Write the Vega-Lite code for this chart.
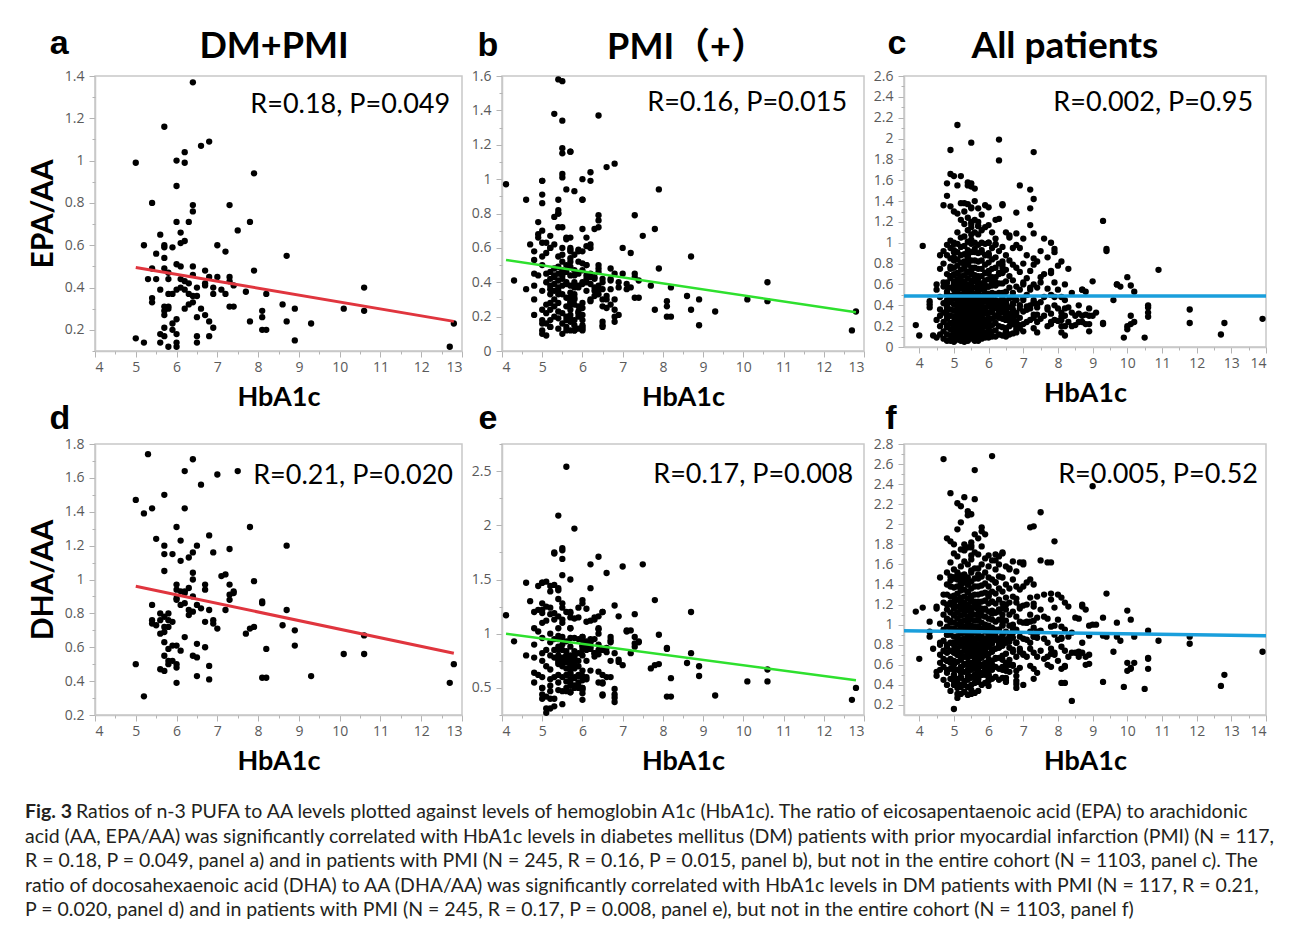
{
"$schema":"https://vega.github.io/schema/vega-lite/v6.json",
"background":"white",
"padding":{"left":25,"top":26,"right":10,"bottom":8},
"config":{"font":"Lato","numberFormat":"~g","view":{"stroke":"#c8c8c8","strokeWidth":1.5},
"axis":{"grid":false,"labelOverlap":false,"labelFont":"Open Sans","labelFontSize":14,"labelColor":"#5a5a5a","domainColor":"#c8c8c8","domainWidth":1.5,"tickColor":"#b4b4b4","tickSize":6,"labelPadding":3,"titleFont":"Lato","titleFontWeight":"bold","titleFontSize":27,"titleColor":"#000"},
"axisX":{"titlePadding":10},"axisY":{"titlePadding":6,"labelPadding":5,"titleFontSize":30}},
"datasets":{
"fits":[{"panel":"a","x":5.0,"y":0.495},{"panel":"a","x":12.8,"y":0.24},{"panel":"b","x":4.1,"y":0.53},{"panel":"b","x":12.8,"y":0.225},{"panel":"c","x":3.56,"y":0.49},{"panel":"c","x":14,"y":0.49},{"panel":"d","x":5.0,"y":0.96},{"panel":"d","x":12.8,"y":0.565},{"panel":"e","x":4.1,"y":1.0},{"panel":"e","x":12.8,"y":0.57},{"panel":"f","x":3.56,"y":0.94},{"panel":"f","x":14,"y":0.89}],
"labels":[{"panel":"a","letter":"a","group":"DM+PMI","stat":"R=0.18, P=0.049"},{"panel":"b","letter":"b","group":"PMI（+）","stat":"R=0.16, P=0.015"},{"panel":"c","letter":"c","group":"All patients","stat":"R=0.002, P=0.95"},{"panel":"d","letter":"d","group":"","stat":"R=0.21, P=0.020"},{"panel":"e","letter":"e","group":"","stat":"R=0.17, P=0.008"},{"panel":"f","letter":"f","group":"","stat":"R=0.005, P=0.52"}],
"caption":[{"line":1,"lead":"Fig. 3","text":"Ratios of n-3 PUFA to AA levels plotted against levels of hemoglobin A1c (HbA1c). The ratio of eicosapentaenoic acid (EPA) to arachidonic"},{"line":2,"lead":"","text":"acid (AA, EPA/AA) was significantly correlated with HbA1c levels in diabetes mellitus (DM) patients with prior myocardial infarction (PMI) (N = 117,"},{"line":3,"lead":"","text":"R = 0.18, P = 0.049, panel a) and in patients with PMI (N = 245, R = 0.16, P = 0.015, panel b), but not in the entire cohort (N = 1103, panel c). The"},{"line":4,"lead":"","text":"ratio of docosahexaenoic acid (DHA) to AA (DHA/AA) was significantly correlated with HbA1c levels in DM patients with PMI (N = 117, R = 0.21,"},{"line":5,"lead":"","text":"P = 0.020, panel d) and in patients with PMI (N = 245, R = 0.17, P = 0.008, panel e), but not in the entire cohort (N = 1103, panel f)"}],
"pts":[
{"g":1,"x":5.0,"e":0.99,"d":1.47},{"g":1,"x":5.0,"e":0.16,"d":0.50},{"g":1,"x":5.2,"e":0.60,"d":1.39},{"g":1,"x":5.2,"e":0.14,"d":0.31},{"g":1,"x":5.3,"e":0.44,"d":1.74},
{"g":1,"x":5.4,"e":0.80,"d":1.42},{"g":1,"x":5.4,"e":0.49,"d":0.85},{"g":1,"x":5.4,"e":0.35,"d":0.74},{"g":1,"x":5.4,"e":0.33,"d":0.76},{"g":1,"x":5.5,"e":0.56,"d":1.24},{"g":1,"x":5.5,"e":0.44,"d":0.73},
{"g":1,"x":5.6,"e":0.65,"d":0.76},{"g":1,"x":5.6,"e":0.39,"d":0.68},{"g":1,"x":5.6,"e":0.18,"d":0.47},{"g":1,"x":5.6,"e":0.14,"d":0.80},
{"g":1,"x":5.7,"e":1.16,"d":1.50},{"g":1,"x":5.7,"e":0.60,"d":1.20},{"g":1,"x":5.7,"e":0.59,"d":1.15},{"g":1,"x":5.7,"e":0.54,"d":1.05},{"g":1,"x":5.7,"e":0.49,"d":0.72},{"g":1,"x":5.7,"e":0.31,"d":0.69},{"g":1,"x":5.7,"e":0.29,"d":0.63},{"g":1,"x":5.7,"e":0.27,"d":0.46},{"g":1,"x":5.7,"e":0.21,"d":0.78},{"g":1,"x":5.7,"e":0.17,"d":0.55},
{"g":1,"x":5.8,"e":0.47,"d":0.80},{"g":1,"x":5.8,"e":0.44,"d":0.76},{"g":1,"x":5.8,"e":0.37,"d":0.72},{"g":1,"x":5.8,"e":0.31,"d":0.59},{"g":1,"x":5.8,"e":0.30,"d":0.52},{"g":1,"x":5.8,"e":0.12,"d":0.50},
{"g":1,"x":5.9,"e":0.59,"d":1.15},{"g":1,"x":5.9,"e":0.37,"d":0.75},{"g":1,"x":5.9,"e":0.23,"d":0.61},{"g":1,"x":5.9,"e":0.20,"d":0.52},
{"g":1,"x":6.0,"e":1.00,"d":1.31},{"g":1,"x":6.0,"e":0.88,"d":0.97},{"g":1,"x":6.0,"e":0.71,"d":0.94},{"g":1,"x":6.0,"e":0.51,"d":0.89},{"g":1,"x":6.0,"e":0.39,"d":0.88},{"g":1,"x":6.0,"e":0.25,"d":0.61},{"g":1,"x":6.0,"e":0.18,"d":0.50},{"g":1,"x":6.0,"e":0.14,"d":0.48},{"g":1,"x":6.0,"e":0.12,"d":0.39},
{"g":1,"x":6.1,"e":0.66,"d":1.23},{"g":1,"x":6.1,"e":0.61,"d":1.11},{"g":1,"x":6.1,"e":0.50,"d":0.93},{"g":1,"x":6.1,"e":0.44,"d":0.58},{"g":1,"x":6.1,"e":0.40,"d":0.85},
{"g":1,"x":6.2,"e":1.04,"d":1.64},{"g":1,"x":6.2,"e":0.99,"d":1.42},{"g":1,"x":6.2,"e":0.62,"d":0.92},{"g":1,"x":6.2,"e":0.43,"d":0.86},{"g":1,"x":6.2,"e":0.39,"d":0.66},{"g":1,"x":6.2,"e":0.30,"d":0.93},
{"g":1,"x":6.3,"e":0.71,"d":1.13},{"g":1,"x":6.3,"e":0.42,"d":0.95},{"g":1,"x":6.3,"e":0.37,"d":0.82},{"g":1,"x":6.3,"e":0.32,"d":0.79},
{"g":1,"x":6.4,"e":1.37,"d":1.71},{"g":1,"x":6.4,"e":0.79,"d":1.16},{"g":1,"x":6.4,"e":0.76,"d":1.04},{"g":1,"x":6.4,"e":0.50,"d":1.00},{"g":1,"x":6.4,"e":0.46,"d":0.81},{"g":1,"x":6.4,"e":0.36,"d":0.55},{"g":1,"x":6.4,"e":0.33,"d":0.90},
{"g":1,"x":6.5,"e":0.40,"d":1.20},{"g":1,"x":6.5,"e":0.36,"d":0.85},{"g":1,"x":6.5,"e":0.26,"d":0.62},{"g":1,"x":6.5,"e":0.17,"d":0.54},{"g":1,"x":6.5,"e":0.14,"d":0.43},
{"g":1,"x":6.6,"e":1.07,"d":1.56},{"g":1,"x":6.6,"e":0.30,"d":0.83},
{"g":1,"x":6.7,"e":0.48,"d":0.97},{"g":1,"x":6.7,"e":0.42,"d":0.94},{"g":1,"x":6.7,"e":0.41,"d":0.75},{"g":1,"x":6.7,"e":0.27,"d":0.60},
{"g":1,"x":6.8,"e":1.09,"d":1.26},{"g":1,"x":6.8,"e":0.45,"d":0.82},{"g":1,"x":6.8,"e":0.24,"d":0.49},{"g":1,"x":6.8,"e":0.17,"d":0.41},
{"g":1,"x":6.9,"e":0.37,"d":1.16},{"g":1,"x":6.9,"e":0.21,"d":0.76},{"g":1,"x":6.9,"e":0.40,"d":0.74},
{"g":1,"x":7.0,"e":0.60,"d":1.62},{"g":1,"x":7.0,"e":0.45,"d":0.71},{"g":1,"x":7.1,"e":0.39,"d":1.02},{"g":1,"x":7.2,"e":0.57,"d":1.03},{"g":1,"x":7.2,"e":0.37,"d":0.82},
{"g":1,"x":7.3,"e":0.79,"d":1.18},{"g":1,"x":7.3,"e":0.45,"d":0.97},{"g":1,"x":7.3,"e":0.43,"d":0.91},{"g":1,"x":7.3,"e":0.31,"d":0.88},
{"g":1,"x":7.4,"e":0.41,"d":0.92},{"g":1,"x":7.4,"e":0.31,"d":0.93},{"g":1,"x":7.5,"e":0.67,"d":1.64},{"g":1,"x":7.7,"e":0.38,"d":0.68},{"g":1,"x":7.8,"e":0.71,"d":1.31},{"g":1,"x":7.8,"e":0.24,"d":0.71},
{"g":1,"x":7.9,"e":0.94,"d":0.99},{"g":1,"x":7.9,"e":0.48,"d":0.72},{"g":1,"x":8.1,"e":0.29,"d":0.87},{"g":1,"x":8.1,"e":0.26,"d":0.86},{"g":1,"x":8.1,"e":0.20,"d":0.42},
{"g":1,"x":8.2,"e":0.37,"d":0.59},{"g":1,"x":8.2,"e":0.20,"d":0.42},{"g":1,"x":8.6,"e":0.32,"d":0.73},{"g":1,"x":8.7,"e":0.55,"d":1.20},{"g":1,"x":8.7,"e":0.24,"d":0.82},
{"g":1,"x":8.9,"e":0.30,"d":0.70},{"g":1,"x":8.9,"e":0.15,"d":0.61},{"g":1,"x":9.3,"e":0.23,"d":0.43},{"g":1,"x":10.1,"e":0.30,"d":0.56},{"g":1,"x":10.6,"e":0.40,"d":0.67},{"g":1,"x":10.6,"e":0.29,"d":0.56},
{"g":1,"x":12.7,"e":0.12,"d":0.39},{"g":1,"x":12.8,"e":0.23,"d":0.50},
{"g":2,"x":4.1,"e":0.97,"d":1.17},{"g":2,"x":4.3,"e":0.41,"d":0.93},{"g":2,"x":4.6,"e":0.88,"d":1.47},{"g":2,"x":4.6,"e":0.36,"d":0.80},{"g":2,"x":4.7,"e":0.62,"d":1.30},
{"g":2,"x":4.8,"e":0.58,"d":1.20},{"g":2,"x":4.8,"e":0.53,"d":1.05},{"g":2,"x":4.8,"e":0.45,"d":0.90},{"g":2,"x":4.8,"e":0.38,"d":0.78},{"g":2,"x":4.8,"e":0.30,"d":0.64},{"g":2,"x":4.8,"e":0.21,"d":0.55},
{"g":2,"x":4.9,"e":0.75,"d":1.44},{"g":2,"x":4.9,"e":0.68,"d":1.22},{"g":2,"x":4.9,"e":0.66,"d":1.02},{"g":2,"x":4.9,"e":0.44,"d":0.62},
{"g":2,"x":5.0,"e":0.99,"d":1.47},{"g":2,"x":5.0,"e":0.91,"d":1.28},{"g":2,"x":5.0,"e":0.86,"d":1.22},{"g":2,"x":5.0,"e":0.70,"d":1.19},{"g":2,"x":5.0,"e":0.63,"d":1.10},{"g":2,"x":5.0,"e":0.55,"d":0.96},{"g":2,"x":5.0,"e":0.50,"d":0.82},{"g":2,"x":5.0,"e":0.35,"d":0.75},{"g":2,"x":5.0,"e":0.24,"d":0.60},{"g":2,"x":5.0,"e":0.18,"d":0.50},{"g":2,"x":5.0,"e":0.12,"d":0.44},{"g":2,"x":5.0,"e":0.10,"d":0.40},
{"g":2,"x":5.1,"e":0.63,"d":1.48},{"g":2,"x":5.1,"e":0.57,"d":1.25},{"g":2,"x":5.1,"e":0.45,"d":1.12},{"g":2,"x":5.1,"e":0.40,"d":0.85},{"g":2,"x":5.1,"e":0.27,"d":0.70},{"g":2,"x":5.1,"e":0.22,"d":0.42},{"g":2,"x":5.1,"e":0.16,"d":0.31},{"g":2,"x":5.1,"e":0.09,"d":0.27},
{"g":2,"x":5.2,"e":0.67,"d":1.44},{"g":2,"x":5.2,"e":0.60,"d":1.24},{"g":2,"x":5.2,"e":0.46,"d":1.18},{"g":2,"x":5.2,"e":0.42,"d":1.00},{"g":2,"x":5.2,"e":0.38,"d":0.92},{"g":2,"x":5.2,"e":0.36,"d":0.80},{"g":2,"x":5.2,"e":0.33,"d":0.67},{"g":2,"x":5.2,"e":0.28,"d":0.58},{"g":2,"x":5.2,"e":0.24,"d":0.52},{"g":2,"x":5.2,"e":0.18,"d":0.47},{"g":2,"x":5.2,"e":0.14,"d":0.40},
{"g":2,"x":5.3,"e":1.38,"d":1.75},{"g":2,"x":5.3,"e":0.78,"d":1.45},{"g":2,"x":5.3,"e":0.62,"d":1.19},{"g":2,"x":5.3,"e":0.48,"d":1.13},{"g":2,"x":5.3,"e":0.43,"d":0.95},{"g":2,"x":5.3,"e":0.39,"d":0.85},{"g":2,"x":5.3,"e":0.35,"d":0.78},{"g":2,"x":5.3,"e":0.30,"d":0.60},{"g":2,"x":5.3,"e":0.26,"d":0.40},{"g":2,"x":5.3,"e":0.20,"d":0.33},
{"g":2,"x":5.4,"e":1.58,"d":2.09},{"g":2,"x":5.4,"e":0.88,"d":1.40},{"g":2,"x":5.4,"e":0.82,"d":1.32},{"g":2,"x":5.4,"e":0.80,"d":1.16},{"g":2,"x":5.4,"e":0.72,"d":1.05},{"g":2,"x":5.4,"e":0.55,"d":0.98},{"g":2,"x":5.4,"e":0.45,"d":0.95},{"g":2,"x":5.4,"e":0.41,"d":0.88},{"g":2,"x":5.4,"e":0.37,"d":0.80},{"g":2,"x":5.4,"e":0.28,"d":0.72},{"g":2,"x":5.4,"e":0.23,"d":0.62},{"g":2,"x":5.4,"e":0.19,"d":0.55},{"g":2,"x":5.4,"e":0.13,"d":0.48},
{"g":2,"x":5.5,"e":1.57,"d":1.79},{"g":2,"x":5.5,"e":1.34,"d":1.77},{"g":2,"x":5.5,"e":1.18,"d":1.69},{"g":2,"x":5.5,"e":1.15,"d":1.54},{"g":2,"x":5.5,"e":1.03,"d":1.28},{"g":2,"x":5.5,"e":1.01,"d":1.13},{"g":2,"x":5.5,"e":0.72,"d":1.10},{"g":2,"x":5.5,"e":0.60,"d":0.97},{"g":2,"x":5.5,"e":0.52,"d":0.90},{"g":2,"x":5.5,"e":0.47,"d":0.85},{"g":2,"x":5.5,"e":0.42,"d":0.78},{"g":2,"x":5.5,"e":0.38,"d":0.74},{"g":2,"x":5.5,"e":0.33,"d":0.70},{"g":2,"x":5.5,"e":0.22,"d":0.60},{"g":2,"x":5.5,"e":0.16,"d":0.47},{"g":2,"x":5.5,"e":0.10,"d":0.35},
{"g":2,"x":5.6,"e":0.94,"d":2.54},{"g":2,"x":5.6,"e":0.66,"d":1.20},{"g":2,"x":5.6,"e":0.50,"d":0.93},{"g":2,"x":5.6,"e":0.46,"d":0.84},{"g":2,"x":5.6,"e":0.40,"d":0.80},{"g":2,"x":5.6,"e":0.31,"d":0.74},{"g":2,"x":5.6,"e":0.26,"d":0.62},{"g":2,"x":5.6,"e":0.20,"d":0.56},{"g":2,"x":5.6,"e":0.12,"d":0.50},
{"g":2,"x":5.7,"e":1.16,"d":1.19},{"g":2,"x":5.7,"e":0.66,"d":1.05},{"g":2,"x":5.7,"e":0.58,"d":0.96},{"g":2,"x":5.7,"e":0.52,"d":0.88},{"g":2,"x":5.7,"e":0.44,"d":0.80},{"g":2,"x":5.7,"e":0.38,"d":0.76},{"g":2,"x":5.7,"e":0.34,"d":0.70},{"g":2,"x":5.7,"e":0.28,"d":0.64},{"g":2,"x":5.7,"e":0.24,"d":0.58},{"g":2,"x":5.7,"e":0.19,"d":0.52},{"g":2,"x":5.7,"e":0.12,"d":0.46},
{"g":2,"x":5.8,"e":0.93,"d":1.97},{"g":2,"x":5.8,"e":0.56,"d":1.14},{"g":2,"x":5.8,"e":0.40,"d":0.96},{"g":2,"x":5.8,"e":0.33,"d":0.84},{"g":2,"x":5.8,"e":0.27,"d":0.78},{"g":2,"x":5.8,"e":0.18,"d":0.68},{"g":2,"x":5.8,"e":0.15,"d":0.60},{"g":2,"x":5.8,"e":0.12,"d":0.52},
{"g":2,"x":5.9,"e":0.58,"d":1.24},{"g":2,"x":5.9,"e":0.52,"d":0.95},{"g":2,"x":5.9,"e":0.45,"d":0.82},{"g":2,"x":5.9,"e":0.38,"d":0.70},{"g":2,"x":5.9,"e":0.26,"d":0.62},{"g":2,"x":5.9,"e":0.22,"d":0.55},{"g":2,"x":5.9,"e":0.13,"d":0.50},
{"g":2,"x":6.0,"e":0.88,"d":1.28},{"g":2,"x":6.0,"e":0.58,"d":0.97},{"g":2,"x":6.0,"e":0.47,"d":0.85},{"g":2,"x":6.0,"e":0.40,"d":0.80},{"g":2,"x":6.0,"e":0.28,"d":0.66},{"g":2,"x":6.0,"e":0.21,"d":0.57},{"g":2,"x":6.0,"e":0.15,"d":0.50},{"g":2,"x":6.0,"e":0.13,"d":0.45},
{"g":2,"x":6.1,"e":0.50,"d":0.90},{"g":2,"x":6.1,"e":0.42,"d":0.75},{"g":2,"x":6.1,"e":0.35,"d":0.60},{"g":2,"x":6.2,"e":0.60,"d":1.12},{"g":2,"x":6.2,"e":0.45,"d":0.95},{"g":2,"x":6.2,"e":0.29,"d":0.88},
{"g":2,"x":6.3,"e":0.43,"d":1.15},{"g":2,"x":6.3,"e":0.35,"d":0.82},{"g":2,"x":6.4,"e":0.72,"d":1.05},{"g":2,"x":6.4,"e":0.48,"d":0.85},{"g":2,"x":6.4,"e":0.38,"d":0.65},
{"g":2,"x":6.5,"e":0.42,"d":1.20},{"g":2,"x":6.5,"e":0.30,"d":0.55},{"g":2,"x":6.5,"e":0.15,"d":0.44},{"g":2,"x":6.6,"e":0.32,"d":0.87},{"g":2,"x":6.6,"e":0.25,"d":0.60},{"g":2,"x":6.7,"e":0.36,"d":0.92},
{"g":2,"x":6.8,"e":0.30,"d":0.44},{"g":2,"x":6.8,"e":0.20,"d":0.37},{"g":2,"x":7.1,"e":0.36,"d":1.03},
{"g":3,"x":3.9,"e":0.21,"d":1.13},{"g":3,"x":4.0,"e":0.11,"d":0.66},{"g":3,"x":4.3,"e":0.44,"d":1.03},{"g":3,"x":4.3,"e":0.38,"d":0.88},{"g":3,"x":4.4,"e":0.11,"d":0.76},
{"g":3,"x":4.5,"e":0.60,"d":1.18},{"g":3,"x":4.5,"e":0.55,"d":1.16},{"g":3,"x":4.5,"e":0.26,"d":0.49},{"g":3,"x":4.5,"e":0.09,"d":0.53},
{"g":3,"x":4.6,"e":0.75,"d":1.01},{"g":3,"x":4.6,"e":0.48,"d":0.82},{"g":3,"x":4.6,"e":0.30,"d":0.70},{"g":3,"x":4.6,"e":0.20,"d":0.62},{"g":3,"x":4.6,"e":0.12,"d":0.55},
{"g":3,"x":4.7,"e":1.36,"d":2.65},{"g":3,"x":4.7,"e":0.92,"d":1.22},{"g":3,"x":4.7,"e":0.80,"d":1.10},{"g":3,"x":4.7,"e":0.58,"d":0.95},{"g":3,"x":4.7,"e":0.42,"d":0.84},{"g":3,"x":4.7,"e":0.33,"d":0.74},{"g":3,"x":4.7,"e":0.24,"d":0.66},{"g":3,"x":4.7,"e":0.15,"d":0.58},{"g":3,"x":4.7,"e":0.08,"d":0.45},
{"g":3,"x":4.8,"e":1.57,"d":1.86},{"g":3,"x":4.8,"e":1.45,"d":1.52},{"g":3,"x":4.8,"e":0.98,"d":1.40},{"g":3,"x":4.8,"e":0.88,"d":1.30},{"g":3,"x":4.8,"e":0.70,"d":1.15},{"g":3,"x":4.8,"e":0.62,"d":1.06},{"g":3,"x":4.8,"e":0.51,"d":0.98},{"g":3,"x":4.8,"e":0.40,"d":0.90},{"g":3,"x":4.8,"e":0.35,"d":0.80},{"g":3,"x":4.8,"e":0.27,"d":0.72},{"g":3,"x":4.8,"e":0.19,"d":0.64},{"g":3,"x":4.8,"e":0.12,"d":0.52},{"g":3,"x":4.8,"e":0.06,"d":0.40},
{"g":3,"x":4.9,"e":1.89,"d":2.31},{"g":3,"x":4.9,"e":1.66,"d":1.83},{"g":3,"x":4.9,"e":1.35,"d":1.62},{"g":3,"x":4.9,"e":1.02,"d":1.48},{"g":3,"x":4.9,"e":0.95,"d":1.38},{"g":3,"x":4.9,"e":0.85,"d":1.28},{"g":3,"x":4.9,"e":0.77,"d":1.20},{"g":3,"x":4.9,"e":0.68,"d":1.12},{"g":3,"x":4.9,"e":0.57,"d":1.04},{"g":3,"x":4.9,"e":0.49,"d":0.96},{"g":3,"x":4.9,"e":0.43,"d":0.90},{"g":3,"x":4.9,"e":0.36,"d":0.82},{"g":3,"x":4.9,"e":0.30,"d":0.74},{"g":3,"x":4.9,"e":0.23,"d":0.66},{"g":3,"x":4.9,"e":0.17,"d":0.56},{"g":3,"x":4.9,"e":0.11,"d":0.46},{"g":3,"x":4.9,"e":0.06,"d":0.34},
{"g":3,"x":5.0,"e":1.64,"d":1.80},{"g":3,"x":5.0,"e":1.30,"d":1.71},{"g":3,"x":5.0,"e":1.00,"d":1.55},{"g":3,"x":5.0,"e":0.93,"d":1.46},{"g":3,"x":5.0,"e":0.83,"d":1.37},{"g":3,"x":5.0,"e":0.76,"d":1.29},{"g":3,"x":5.0,"e":0.69,"d":1.23},{"g":3,"x":5.0,"e":0.61,"d":1.16},{"g":3,"x":5.0,"e":0.56,"d":1.09},{"g":3,"x":5.0,"e":0.47,"d":1.02},{"g":3,"x":5.0,"e":0.41,"d":0.95},{"g":3,"x":5.0,"e":0.35,"d":0.88},{"g":3,"x":5.0,"e":0.29,"d":0.80},{"g":3,"x":5.0,"e":0.24,"d":0.72},{"g":3,"x":5.0,"e":0.19,"d":0.64},{"g":3,"x":5.0,"e":0.14,"d":0.55},{"g":3,"x":5.0,"e":0.09,"d":0.44},{"g":3,"x":5.0,"e":0.05,"d":0.16},
{"g":3,"x":5.1,"e":2.13,"d":2.21},{"g":3,"x":5.1,"e":1.55,"d":1.95},{"g":3,"x":5.1,"e":1.28,"d":1.68},{"g":3,"x":5.1,"e":1.10,"d":1.52},{"g":3,"x":5.1,"e":0.99,"d":1.45},{"g":3,"x":5.1,"e":0.91,"d":1.38},{"g":3,"x":5.1,"e":0.84,"d":1.31},{"g":3,"x":5.1,"e":0.78,"d":1.25},{"g":3,"x":5.1,"e":0.71,"d":1.18},{"g":3,"x":5.1,"e":0.65,"d":1.12},{"g":3,"x":5.1,"e":0.59,"d":1.06},{"g":3,"x":5.1,"e":0.53,"d":1.00},{"g":3,"x":5.1,"e":0.47,"d":0.94},{"g":3,"x":5.1,"e":0.42,"d":0.88},{"g":3,"x":5.1,"e":0.37,"d":0.82},{"g":3,"x":5.1,"e":0.32,"d":0.76},{"g":3,"x":5.1,"e":0.27,"d":0.70},{"g":3,"x":5.1,"e":0.22,"d":0.63},{"g":3,"x":5.1,"e":0.17,"d":0.55},{"g":3,"x":5.1,"e":0.12,"d":0.46},{"g":3,"x":5.1,"e":0.07,"d":0.37},
{"g":3,"x":5.2,"e":1.64,"d":2.18},{"g":3,"x":5.2,"e":1.38,"d":2.02},{"g":3,"x":5.2,"e":1.22,"d":1.75},{"g":3,"x":5.2,"e":1.05,"d":1.58},{"g":3,"x":5.2,"e":0.96,"d":1.49},{"g":3,"x":5.2,"e":0.88,"d":1.41},{"g":3,"x":5.2,"e":0.81,"d":1.34},{"g":3,"x":5.2,"e":0.74,"d":1.27},{"g":3,"x":5.2,"e":0.68,"d":1.21},{"g":3,"x":5.2,"e":0.62,"d":1.15},{"g":3,"x":5.2,"e":0.56,"d":1.09},{"g":3,"x":5.2,"e":0.50,"d":1.03},{"g":3,"x":5.2,"e":0.45,"d":0.97},{"g":3,"x":5.2,"e":0.40,"d":0.91},{"g":3,"x":5.2,"e":0.35,"d":0.85},{"g":3,"x":5.2,"e":0.31,"d":0.79},{"g":3,"x":5.2,"e":0.26,"d":0.72},{"g":3,"x":5.2,"e":0.21,"d":0.65},{"g":3,"x":5.2,"e":0.16,"d":0.57},{"g":3,"x":5.2,"e":0.11,"d":0.48},{"g":3,"x":5.2,"e":0.06,"d":0.38},
{"g":3,"x":5.3,"e":1.30,"d":2.27},{"g":3,"x":5.3,"e":1.18,"d":1.80},{"g":3,"x":5.3,"e":1.06,"d":1.63},{"g":3,"x":5.3,"e":0.97,"d":1.50},{"g":3,"x":5.3,"e":0.89,"d":1.42},{"g":3,"x":5.3,"e":0.82,"d":1.35},{"g":3,"x":5.3,"e":0.75,"d":1.28},{"g":3,"x":5.3,"e":0.69,"d":1.22},{"g":3,"x":5.3,"e":0.63,"d":1.16},{"g":3,"x":5.3,"e":0.57,"d":1.10},{"g":3,"x":5.3,"e":0.52,"d":1.04},{"g":3,"x":5.3,"e":0.47,"d":0.98},{"g":3,"x":5.3,"e":0.42,"d":0.92},{"g":3,"x":5.3,"e":0.37,"d":0.86},{"g":3,"x":5.3,"e":0.32,"d":0.80},{"g":3,"x":5.3,"e":0.28,"d":0.74},{"g":3,"x":5.3,"e":0.24,"d":0.68},{"g":3,"x":5.3,"e":0.19,"d":0.61},{"g":3,"x":5.3,"e":0.14,"d":0.53},{"g":3,"x":5.3,"e":0.09,"d":0.44},{"g":3,"x":5.3,"e":0.05,"d":0.33},
{"g":3,"x":5.4,"e":1.55,"d":2.13},{"g":3,"x":5.4,"e":1.37,"d":1.77},{"g":3,"x":5.4,"e":1.24,"d":1.60},{"g":3,"x":5.4,"e":1.12,"d":1.47},{"g":3,"x":5.4,"e":1.01,"d":1.40},{"g":3,"x":5.4,"e":0.93,"d":1.33},{"g":3,"x":5.4,"e":0.86,"d":1.26},{"g":3,"x":5.4,"e":0.79,"d":1.20},{"g":3,"x":5.4,"e":0.72,"d":1.14},{"g":3,"x":5.4,"e":0.66,"d":1.08},{"g":3,"x":5.4,"e":0.60,"d":1.02},{"g":3,"x":5.4,"e":0.54,"d":0.96},{"g":3,"x":5.4,"e":0.49,"d":0.90},{"g":3,"x":5.4,"e":0.44,"d":0.85},{"g":3,"x":5.4,"e":0.39,"d":0.79},{"g":3,"x":5.4,"e":0.34,"d":0.73},{"g":3,"x":5.4,"e":0.29,"d":0.67},{"g":3,"x":5.4,"e":0.25,"d":0.60},{"g":3,"x":5.4,"e":0.20,"d":0.52},{"g":3,"x":5.4,"e":0.15,"d":0.45},{"g":3,"x":5.4,"e":0.10,"d":0.38},{"g":3,"x":5.4,"e":0.06,"d":0.30},
{"g":3,"x":5.5,"e":1.96,"d":2.10},{"g":3,"x":5.5,"e":1.54,"d":1.82},{"g":3,"x":5.5,"e":1.33,"d":1.65},{"g":3,"x":5.5,"e":1.20,"d":1.52},{"g":3,"x":5.5,"e":1.08,"d":1.43},{"g":3,"x":5.5,"e":0.99,"d":1.36},{"g":3,"x":5.5,"e":0.91,"d":1.29},{"g":3,"x":5.5,"e":0.83,"d":1.23},{"g":3,"x":5.5,"e":0.76,"d":1.17},{"g":3,"x":5.5,"e":0.70,"d":1.11},{"g":3,"x":5.5,"e":0.64,"d":1.05},{"g":3,"x":5.5,"e":0.58,"d":0.99},{"g":3,"x":5.5,"e":0.53,"d":0.93},{"g":3,"x":5.5,"e":0.48,"d":0.87},{"g":3,"x":5.5,"e":0.43,"d":0.81},{"g":3,"x":5.5,"e":0.38,"d":0.75},{"g":3,"x":5.5,"e":0.33,"d":0.69},{"g":3,"x":5.5,"e":0.28,"d":0.62},{"g":3,"x":5.5,"e":0.23,"d":0.55},{"g":3,"x":5.5,"e":0.18,"d":0.48},{"g":3,"x":5.5,"e":0.13,"d":0.40},{"g":3,"x":5.5,"e":0.08,"d":0.31},
{"g":3,"x":5.6,"e":1.52,"d":2.25},{"g":3,"x":5.6,"e":1.40,"d":1.90},{"g":3,"x":5.6,"e":1.22,"d":1.72},{"g":3,"x":5.6,"e":1.10,"d":1.56},{"g":3,"x":5.6,"e":1.00,"d":1.46},{"g":3,"x":5.6,"e":0.91,"d":1.38},{"g":3,"x":5.6,"e":0.83,"d":1.30},{"g":3,"x":5.6,"e":0.76,"d":1.23},{"g":3,"x":5.6,"e":0.69,"d":1.17},{"g":3,"x":5.6,"e":0.63,"d":1.10},{"g":3,"x":5.6,"e":0.57,"d":1.04},{"g":3,"x":5.6,"e":0.51,"d":0.98},{"g":3,"x":5.6,"e":0.46,"d":0.92},{"g":3,"x":5.6,"e":0.41,"d":0.86},{"g":3,"x":5.6,"e":0.36,"d":0.80},{"g":3,"x":5.6,"e":0.31,"d":0.73},{"g":3,"x":5.6,"e":0.26,"d":0.66},{"g":3,"x":5.6,"e":0.21,"d":0.58},{"g":3,"x":5.6,"e":0.16,"d":0.50},{"g":3,"x":5.6,"e":0.11,"d":0.42},{"g":3,"x":5.6,"e":0.06,"d":0.32},
{"g":3,"x":5.7,"e":1.33,"d":1.86},{"g":3,"x":5.7,"e":1.20,"d":1.70},{"g":3,"x":5.7,"e":1.08,"d":1.56},{"g":3,"x":5.7,"e":0.98,"d":1.46},{"g":3,"x":5.7,"e":0.90,"d":1.38},{"g":3,"x":5.7,"e":0.82,"d":1.30},{"g":3,"x":5.7,"e":0.75,"d":1.23},{"g":3,"x":5.7,"e":0.68,"d":1.16},{"g":3,"x":5.7,"e":0.62,"d":1.10},{"g":3,"x":5.7,"e":0.56,"d":1.04},{"g":3,"x":5.7,"e":0.50,"d":0.98},{"g":3,"x":5.7,"e":0.45,"d":0.92},{"g":3,"x":5.7,"e":0.40,"d":0.86},{"g":3,"x":5.7,"e":0.35,"d":0.80},{"g":3,"x":5.7,"e":0.30,"d":0.74},{"g":3,"x":5.7,"e":0.25,"d":0.67},{"g":3,"x":5.7,"e":0.20,"d":0.60},{"g":3,"x":5.7,"e":0.15,"d":0.52},{"g":3,"x":5.7,"e":0.10,"d":0.43},{"g":3,"x":5.7,"e":0.06,"d":0.34},
{"g":3,"x":5.8,"e":1.27,"d":1.93},{"g":3,"x":5.8,"e":1.12,"d":1.78},{"g":3,"x":5.8,"e":1.00,"d":1.60},{"g":3,"x":5.8,"e":0.91,"d":1.48},{"g":3,"x":5.8,"e":0.83,"d":1.39},{"g":3,"x":5.8,"e":0.75,"d":1.31},{"g":3,"x":5.8,"e":0.68,"d":1.23},{"g":3,"x":5.8,"e":0.61,"d":1.16},{"g":3,"x":5.8,"e":0.55,"d":1.09},{"g":3,"x":5.8,"e":0.49,"d":1.02},{"g":3,"x":5.8,"e":0.43,"d":0.95},{"g":3,"x":5.8,"e":0.38,"d":0.88},{"g":3,"x":5.8,"e":0.33,"d":0.81},{"g":3,"x":5.8,"e":0.28,"d":0.74},{"g":3,"x":5.8,"e":0.23,"d":0.67},{"g":3,"x":5.8,"e":0.18,"d":0.59},{"g":3,"x":5.8,"e":0.13,"d":0.50},{"g":3,"x":5.8,"e":0.08,"d":0.40},
{"g":3,"x":5.9,"e":1.36,"d":1.90},{"g":3,"x":5.9,"e":1.15,"d":1.66},{"g":3,"x":5.9,"e":0.99,"d":1.52},{"g":3,"x":5.9,"e":0.88,"d":1.41},{"g":3,"x":5.9,"e":0.79,"d":1.32},{"g":3,"x":5.9,"e":0.71,"d":1.24},{"g":3,"x":5.9,"e":0.64,"d":1.16},{"g":3,"x":5.9,"e":0.57,"d":1.08},{"g":3,"x":5.9,"e":0.50,"d":1.00},{"g":3,"x":5.9,"e":0.44,"d":0.93},{"g":3,"x":5.9,"e":0.38,"d":0.86},{"g":3,"x":5.9,"e":0.32,"d":0.78},{"g":3,"x":5.9,"e":0.26,"d":0.70},{"g":3,"x":5.9,"e":0.20,"d":0.61},{"g":3,"x":5.9,"e":0.14,"d":0.52},{"g":3,"x":5.9,"e":0.09,"d":0.42},
{"g":3,"x":6.0,"e":1.34,"d":1.69},{"g":3,"x":6.0,"e":1.17,"d":1.58},{"g":3,"x":6.0,"e":1.00,"d":1.47},{"g":3,"x":6.0,"e":0.90,"d":1.38},{"g":3,"x":6.0,"e":0.81,"d":1.29},{"g":3,"x":6.0,"e":0.73,"d":1.21},{"g":3,"x":6.0,"e":0.65,"d":1.13},{"g":3,"x":6.0,"e":0.58,"d":1.06},{"g":3,"x":6.0,"e":0.51,"d":0.99},{"g":3,"x":6.0,"e":0.45,"d":0.92},{"g":3,"x":6.0,"e":0.39,"d":0.85},{"g":3,"x":6.0,"e":0.33,"d":0.78},{"g":3,"x":6.0,"e":0.27,"d":0.71},{"g":3,"x":6.0,"e":0.21,"d":0.63},{"g":3,"x":6.0,"e":0.15,"d":0.54},{"g":3,"x":6.0,"e":0.09,"d":0.44},
{"g":3,"x":6.1,"e":1.10,"d":2.68},{"g":3,"x":6.1,"e":0.95,"d":1.64},{"g":3,"x":6.1,"e":0.84,"d":1.45},{"g":3,"x":6.1,"e":0.75,"d":1.33},{"g":3,"x":6.1,"e":0.67,"d":1.23},{"g":3,"x":6.1,"e":0.59,"d":1.14},{"g":3,"x":6.1,"e":0.52,"d":1.05},{"g":3,"x":6.1,"e":0.45,"d":0.97},{"g":3,"x":6.1,"e":0.39,"d":0.89},{"g":3,"x":6.1,"e":0.33,"d":0.81},{"g":3,"x":6.1,"e":0.27,"d":0.73},{"g":3,"x":6.1,"e":0.21,"d":0.64},{"g":3,"x":6.1,"e":0.15,"d":0.55},{"g":3,"x":6.1,"e":0.10,"d":0.46},
{"g":3,"x":6.2,"e":1.22,"d":1.70},{"g":3,"x":6.2,"e":0.98,"d":1.55},{"g":3,"x":6.2,"e":0.86,"d":1.42},{"g":3,"x":6.2,"e":0.76,"d":1.31},{"g":3,"x":6.2,"e":0.67,"d":1.21},{"g":3,"x":6.2,"e":0.59,"d":1.12},{"g":3,"x":6.2,"e":0.51,"d":1.03},{"g":3,"x":6.2,"e":0.44,"d":0.94},{"g":3,"x":6.2,"e":0.37,"d":0.85},{"g":3,"x":6.2,"e":0.30,"d":0.76},{"g":3,"x":6.2,"e":0.23,"d":0.67},{"g":3,"x":6.2,"e":0.16,"d":0.58},{"g":3,"x":6.2,"e":0.10,"d":0.48},
{"g":3,"x":6.3,"e":1.99,"d":1.68},{"g":3,"x":6.3,"e":1.79,"d":1.60},{"g":3,"x":6.3,"e":1.23,"d":1.48},{"g":3,"x":6.3,"e":0.92,"d":1.36},{"g":3,"x":6.3,"e":0.80,"d":1.25},{"g":3,"x":6.3,"e":0.70,"d":1.15},{"g":3,"x":6.3,"e":0.61,"d":1.05},{"g":3,"x":6.3,"e":0.52,"d":0.95},{"g":3,"x":6.3,"e":0.44,"d":0.86},{"g":3,"x":6.3,"e":0.36,"d":0.77},{"g":3,"x":6.3,"e":0.28,"d":0.67},{"g":3,"x":6.3,"e":0.20,"d":0.56},{"g":3,"x":6.3,"e":0.12,"d":0.45},
{"g":3,"x":6.4,"e":1.36,"d":1.72},{"g":3,"x":6.4,"e":0.96,"d":1.47},{"g":3,"x":6.4,"e":0.82,"d":1.33},{"g":3,"x":6.4,"e":0.71,"d":1.21},{"g":3,"x":6.4,"e":0.61,"d":1.10},{"g":3,"x":6.4,"e":0.52,"d":0.99},{"g":3,"x":6.4,"e":0.43,"d":0.89},{"g":3,"x":6.4,"e":0.35,"d":0.79},{"g":3,"x":6.4,"e":0.27,"d":0.69},{"g":3,"x":6.4,"e":0.19,"d":0.58},{"g":3,"x":6.4,"e":0.11,"d":0.47},
{"g":3,"x":6.5,"e":1.10,"d":1.58},{"g":3,"x":6.5,"e":0.88,"d":1.40},{"g":3,"x":6.5,"e":0.74,"d":1.27},{"g":3,"x":6.5,"e":0.63,"d":1.15},{"g":3,"x":6.5,"e":0.53,"d":1.04},{"g":3,"x":6.5,"e":0.44,"d":0.93},{"g":3,"x":6.5,"e":0.35,"d":0.82},{"g":3,"x":6.5,"e":0.26,"d":0.71},{"g":3,"x":6.5,"e":0.18,"d":0.59},{"g":3,"x":6.5,"e":0.10,"d":0.47},
{"g":3,"x":6.6,"e":1.05,"d":1.55},{"g":3,"x":6.6,"e":0.83,"d":1.36},{"g":3,"x":6.6,"e":0.68,"d":1.22},{"g":3,"x":6.6,"e":0.57,"d":1.10},{"g":3,"x":6.6,"e":0.47,"d":0.99},{"g":3,"x":6.6,"e":0.38,"d":0.88},{"g":3,"x":6.6,"e":0.29,"d":0.77},{"g":3,"x":6.6,"e":0.20,"d":0.65},{"g":3,"x":6.6,"e":0.12,"d":0.53},
{"g":3,"x":6.7,"e":0.95,"d":1.63},{"g":3,"x":6.7,"e":0.79,"d":1.45},{"g":3,"x":6.7,"e":0.64,"d":1.28},{"g":3,"x":6.7,"e":0.52,"d":1.13},{"g":3,"x":6.7,"e":0.41,"d":1.00},{"g":3,"x":6.7,"e":0.31,"d":0.87},{"g":3,"x":6.7,"e":0.22,"d":0.73},{"g":3,"x":6.7,"e":0.13,"d":0.59},
{"g":3,"x":6.8,"e":1.29,"d":1.53},{"g":3,"x":6.8,"e":0.98,"d":1.38},{"g":3,"x":6.8,"e":0.76,"d":1.22},{"g":3,"x":6.8,"e":0.58,"d":1.08},{"g":3,"x":6.8,"e":0.45,"d":0.95},{"g":3,"x":6.8,"e":0.33,"d":0.82},{"g":3,"x":6.8,"e":0.22,"d":0.68},{"g":3,"x":6.8,"e":0.14,"d":0.54},
{"g":3,"x":6.9,"e":1.55,"d":1.62},{"g":3,"x":6.9,"e":0.95,"d":1.35},{"g":3,"x":6.9,"e":0.72,"d":1.18},{"g":3,"x":6.9,"e":0.55,"d":1.03},{"g":3,"x":6.9,"e":0.40,"d":0.88},{"g":3,"x":6.9,"e":0.28,"d":0.73},{"g":3,"x":6.9,"e":0.18,"d":0.57},
{"g":3,"x":7.0,"e":1.04,"d":1.60},{"g":3,"x":7.0,"e":0.80,"d":1.38},{"g":3,"x":7.0,"e":0.62,"d":1.19},{"g":3,"x":7.0,"e":0.47,"d":1.02},{"g":3,"x":7.0,"e":0.34,"d":0.86},{"g":3,"x":7.0,"e":0.22,"d":0.70},{"g":3,"x":7.0,"e":0.15,"d":0.40},
{"g":3,"x":7.1,"e":0.88,"d":1.42},{"g":3,"x":7.1,"e":0.66,"d":1.20},{"g":3,"x":7.1,"e":0.50,"d":1.02},{"g":3,"x":7.1,"e":0.36,"d":0.85},{"g":3,"x":7.1,"e":0.24,"d":0.68},
{"g":3,"x":7.2,"e":1.51,"d":1.97},{"g":3,"x":7.2,"e":1.33,"d":1.45},{"g":3,"x":7.2,"e":1.17,"d":1.27},{"g":3,"x":7.2,"e":0.73,"d":1.10},{"g":3,"x":7.2,"e":0.55,"d":0.93},{"g":3,"x":7.2,"e":0.40,"d":0.76},{"g":3,"x":7.2,"e":0.26,"d":0.59},
{"g":3,"x":7.3,"e":1.87,"d":1.98},{"g":3,"x":7.3,"e":1.42,"d":1.40},{"g":3,"x":7.3,"e":1.09,"d":1.21},{"g":3,"x":7.3,"e":0.85,"d":1.04},{"g":3,"x":7.3,"e":0.60,"d":0.88},{"g":3,"x":7.3,"e":0.42,"d":0.72},{"g":3,"x":7.3,"e":0.28,"d":0.56},{"g":3,"x":7.3,"e":0.18,"d":0.46},
{"g":3,"x":7.4,"e":0.82,"d":1.28},{"g":3,"x":7.4,"e":0.57,"d":1.07},{"g":3,"x":7.4,"e":0.38,"d":0.87},{"g":3,"x":7.4,"e":0.24,"d":0.68},{"g":3,"x":7.4,"e":0.14,"d":0.52},
{"g":3,"x":7.5,"e":0.92,"d":2.12},{"g":3,"x":7.5,"e":0.62,"d":1.15},{"g":3,"x":7.5,"e":0.43,"d":0.94},{"g":3,"x":7.5,"e":0.27,"d":0.74},
{"g":3,"x":7.6,"e":1.04,"d":1.30},{"g":3,"x":7.6,"e":0.70,"d":1.08},{"g":3,"x":7.6,"e":0.48,"d":0.86},{"g":3,"x":7.6,"e":0.30,"d":0.66},
{"g":3,"x":7.7,"e":0.86,"d":1.62},{"g":3,"x":7.7,"e":0.56,"d":1.06},{"g":3,"x":7.7,"e":0.36,"d":0.82},{"g":3,"x":7.7,"e":0.20,"d":0.60},
{"g":3,"x":7.8,"e":1.00,"d":1.62},{"g":3,"x":7.8,"e":0.73,"d":1.25},{"g":3,"x":7.8,"e":0.50,"d":0.98},{"g":3,"x":7.8,"e":0.32,"d":0.76},{"g":3,"x":7.8,"e":0.22,"d":0.58},
{"g":3,"x":7.9,"e":0.91,"d":1.83},{"g":3,"x":7.9,"e":0.62,"d":1.17},{"g":3,"x":7.9,"e":0.40,"d":0.90},{"g":3,"x":7.9,"e":0.26,"d":0.70},
{"g":3,"x":8.0,"e":0.78,"d":1.30},{"g":3,"x":8.0,"e":0.55,"d":1.05},{"g":3,"x":8.0,"e":0.37,"d":0.85},{"g":3,"x":8.0,"e":0.25,"d":0.64},
{"g":3,"x":8.1,"e":0.82,"d":1.27},{"g":3,"x":8.1,"e":0.48,"d":0.98},{"g":3,"x":8.1,"e":0.33,"d":0.78},{"g":3,"x":8.1,"e":0.14,"d":0.56},
{"g":3,"x":8.2,"e":0.60,"d":1.22},{"g":3,"x":8.2,"e":0.45,"d":0.95},{"g":3,"x":8.2,"e":0.30,"d":0.74},{"g":3,"x":8.2,"e":0.11,"d":0.58},
{"g":3,"x":8.3,"e":0.75,"d":1.18},{"g":3,"x":8.3,"e":0.38,"d":0.88},{"g":3,"x":8.3,"e":0.24,"d":0.68},
{"g":3,"x":8.4,"e":0.52,"d":0.92},{"g":3,"x":8.4,"e":0.33,"d":0.72},{"g":3,"x":8.4,"e":0.20,"d":0.24},
{"g":3,"x":8.5,"e":0.30,"d":1.07},{"g":3,"x":8.5,"e":0.21,"d":0.72},{"g":3,"x":8.6,"e":0.40,"d":1.06},{"g":3,"x":8.6,"e":0.24,"d":0.68},
{"g":3,"x":8.7,"e":0.55,"d":1.18},{"g":3,"x":8.7,"e":0.30,"d":0.72},{"g":3,"x":8.8,"e":0.53,"d":1.15},{"g":3,"x":8.8,"e":0.31,"d":0.68},{"g":3,"x":8.8,"e":0.22,"d":0.60},
{"g":3,"x":8.9,"e":0.37,"d":0.99},{"g":3,"x":8.9,"e":0.22,"d":0.89},{"g":3,"x":9.0,"e":0.63,"d":2.38},{"g":3,"x":9.0,"e":0.30,"d":1.00},{"g":3,"x":9.1,"e":0.33,"d":1.00},
{"g":3,"x":9.3,"e":1.21,"d":1.07},{"g":3,"x":9.3,"e":0.22,"d":0.89},{"g":3,"x":9.4,"e":0.94,"d":1.31},{"g":3,"x":9.4,"e":0.92,"d":0.88},{"g":3,"x":9.6,"e":0.45,"d":0.73},
{"g":3,"x":9.7,"e":0.60,"d":1.02},{"g":3,"x":9.7,"e":0.60,"d":0.88},{"g":3,"x":9.8,"e":0.58,"d":0.84},{"g":3,"x":9.9,"e":0.09,"d":0.38},
{"g":3,"x":10.0,"e":0.67,"d":1.14},{"g":3,"x":10.0,"e":0.20,"d":0.62},{"g":3,"x":10.0,"e":0.17,"d":0.54},{"g":3,"x":10.1,"e":0.59,"d":1.05},{"g":3,"x":10.1,"e":0.22,"d":0.57},
{"g":3,"x":10.2,"e":0.53,"d":0.88},{"g":3,"x":10.2,"e":0.24,"d":0.62},{"g":3,"x":10.5,"e":0.09,"d":0.36},{"g":3,"x":10.6,"e":0.38,"d":0.94},{"g":3,"x":10.6,"e":0.33,"d":0.66},
{"g":3,"x":10.9,"e":0.74,"d":0.84},{"g":3,"x":11.8,"e":0.36,"d":0.88},{"g":3,"x":11.8,"e":0.23,"d":0.81},{"g":3,"x":13.9,"e":0.27,"d":0.73}
]},
"spacing":27,
"vconcat":[
{"concat":[
{"width":367,"height":275,"resolve":{"axis":{"x":"independent","y":"independent"}},"layer":[
{"data":{"name":"pts"},"transform":[{"filter":"datum.g == 1"}],"mark":{"type":"circle","size":40,"opacity":1,"color":"#000"},
"encoding":{"x":{"field":"x","type":"quantitative","scale":{"domain":[4,13],"nice":false,"zero":false},"axis":{"values":[4,5,6,7,8,9,10,11,12,13],"title":"HbA1c","orient":"bottom","labelOverlap":false}},
"y":{"field":"e","type":"quantitative","scale":{"domain":[0.1,1.4],"nice":false,"zero":false},"axis":{"values":[0.2,0.4,0.6,0.8,1,1.2,1.4],"title":"EPA/AA","orient":"left","labelOverlap":false}}}},
{"data":{"name":"fits"},"transform":[{"filter":"datum.panel == 'a'"}],"mark":{"type":"line","color":"#e0353e","strokeWidth":3},
"encoding":{"x":{"field":"x","type":"quantitative","scale":{"domain":[4,13],"nice":false,"zero":false},"axis":{"values":[4.5,5.5,6.5,7.5,8.5,9.5,10.5,11.5,12.5],"labels":false,"domain":false,"title":null,"tickSize":3,"orient":"bottom"}},
"y":{"field":"y","type":"quantitative","scale":{"domain":[0.1,1.4],"nice":false,"zero":false},"axis":{"values":[0.1,0.3,0.5,0.7,0.9,1.1,1.3],"labels":false,"domain":false,"title":null,"tickSize":3,"orient":"left"}}}},
{"data":{"name":"labels"},"transform":[{"filter":"datum.panel == 'a'"}],"mark":{"type":"text","fontSize":27,"align":"right","baseline":"alphabetic","color":"#000"},
"encoding":{"text":{"field":"stat"},"x":{"datum":12.71,"type":"quantitative","scale":{"domain":[4,13],"nice":false,"zero":false},"axis":null},"y":{"datum":1.225,"type":"quantitative","scale":{"domain":[0.1,1.4],"nice":false,"zero":false},"axis":null}}},
{"data":{"name":"labels"},"transform":[{"filter":"datum.panel == 'a'"}],"mark":{"type":"text","font":"Liberation Sans","fontWeight":"bold","fontSize":34,"align":"center","baseline":"alphabetic","color":"#000"},
"encoding":{"text":{"field":"letter"},"x":{"datum":3.12,"type":"quantitative","scale":{"domain":[4,13],"nice":false,"zero":false},"axis":null},"y":{"datum":1.504,"type":"quantitative","scale":{"domain":[0.1,1.4],"nice":false,"zero":false},"axis":null}}},
{"data":{"name":"labels"},"transform":[{"filter":"datum.panel == 'a'"}],"mark":{"type":"text","fontWeight":"bold","fontSize":36,"align":"center","baseline":"alphabetic","color":"#000"},
"encoding":{"text":{"field":"group"},"x":{"datum":8.39,"type":"quantitative","scale":{"domain":[4,13],"nice":false,"zero":false},"axis":null},"y":{"datum":1.485,"type":"quantitative","scale":{"domain":[0.1,1.4],"nice":false,"zero":false},"axis":null}}}
]},
{"width":362,"height":275,"resolve":{"axis":{"x":"independent","y":"independent"}},"layer":[
{"data":{"name":"pts"},"transform":[{"filter":"datum.g <= 2"}],"mark":{"type":"circle","size":40,"opacity":1,"color":"#000"},
"encoding":{"x":{"field":"x","type":"quantitative","scale":{"domain":[4,13],"nice":false,"zero":false},"axis":{"values":[4,5,6,7,8,9,10,11,12,13],"title":"HbA1c","orient":"bottom","labelOverlap":false}},
"y":{"field":"e","type":"quantitative","scale":{"domain":[0,1.6],"nice":false,"zero":false},"axis":{"values":[0,0.2,0.4,0.6,0.8,1,1.2,1.4,1.6],"title":null,"orient":"left","labelOverlap":false}}}},
{"data":{"name":"fits"},"transform":[{"filter":"datum.panel == 'b'"}],"mark":{"type":"line","color":"#2ee02e","strokeWidth":2.5},
"encoding":{"x":{"field":"x","type":"quantitative","scale":{"domain":[4,13],"nice":false,"zero":false},"axis":{"values":[4.5,5.5,6.5,7.5,8.5,9.5,10.5,11.5,12.5],"labels":false,"domain":false,"title":null,"tickSize":3,"orient":"bottom"}},
"y":{"field":"y","type":"quantitative","scale":{"domain":[0,1.6],"nice":false,"zero":false},"axis":{"values":[0.1,0.3,0.5,0.7,0.9,1.1,1.3,1.5],"labels":false,"domain":false,"title":null,"tickSize":3,"orient":"left"}}}},
{"data":{"name":"labels"},"transform":[{"filter":"datum.panel == 'b'"}],"mark":{"type":"text","fontSize":27,"align":"right","baseline":"alphabetic","color":"#000"},
"encoding":{"text":{"field":"stat"},"x":{"datum":12.58,"type":"quantitative","scale":{"domain":[4,13],"nice":false,"zero":false},"axis":null},"y":{"datum":1.396,"type":"quantitative","scale":{"domain":[0,1.6],"nice":false,"zero":false},"axis":null}}},
{"data":{"name":"labels"},"transform":[{"filter":"datum.panel == 'b'"}],"mark":{"type":"text","font":"Liberation Sans","fontWeight":"bold","fontSize":34,"align":"center","baseline":"alphabetic","color":"#000"},
"encoding":{"text":{"field":"letter"},"x":{"datum":3.65,"type":"quantitative","scale":{"domain":[4,13],"nice":false,"zero":false},"axis":null},"y":{"datum":1.716,"type":"quantitative","scale":{"domain":[0,1.6],"nice":false,"zero":false},"axis":null}}},
{"data":{"name":"labels"},"transform":[{"filter":"datum.panel == 'b'"}],"mark":{"type":"text","font":"Lato, Noto Sans CJK JP","fontWeight":"bold","fontSize":36,"align":"center","baseline":"alphabetic","color":"#000"},
"encoding":{"text":{"field":"group"},"x":{"datum":8.6,"type":"quantitative","scale":{"domain":[4,13],"nice":false,"zero":false},"axis":null},"y":{"datum":1.699,"type":"quantitative","scale":{"domain":[0,1.6],"nice":false,"zero":false},"axis":null}}}
]},
{"width":362,"height":271,"resolve":{"axis":{"x":"independent","y":"independent"}},"layer":[
{"data":{"name":"pts"},"mark":{"type":"circle","size":40,"opacity":1,"color":"#000"},
"encoding":{"x":{"field":"x","type":"quantitative","scale":{"domain":[3.56,14],"nice":false,"zero":false},"axis":{"values":[4,5,6,7,8,9,10,11,12,13,14],"title":"HbA1c","orient":"bottom","labelOverlap":false}},
"y":{"field":"e","type":"quantitative","scale":{"domain":[0,2.6],"nice":false,"zero":false},"axis":{"values":[0,0.2,0.4,0.6,0.8,1,1.2,1.4,1.6,1.8,2,2.2,2.4,2.6],"title":null,"orient":"left","labelOverlap":false}}}},
{"data":{"name":"fits"},"transform":[{"filter":"datum.panel == 'c'"}],"mark":{"type":"line","color":"#1a9fdc","strokeWidth":3.5},
"encoding":{"x":{"field":"x","type":"quantitative","scale":{"domain":[3.56,14],"nice":false,"zero":false},"axis":{"values":[4.5,5.5,6.5,7.5,8.5,9.5,10.5,11.5,12.5,13.5],"labels":false,"domain":false,"title":null,"tickSize":3,"orient":"bottom"}},
"y":{"field":"y","type":"quantitative","scale":{"domain":[0,2.6],"nice":false,"zero":false},"axis":{"values":[0.1,0.3,0.5,0.7,0.9,1.1,1.3,1.5,1.7,1.9,2.1,2.3,2.5],"labels":false,"domain":false,"title":null,"tickSize":3,"orient":"left"}}}},
{"data":{"name":"labels"},"transform":[{"filter":"datum.panel == 'c'"}],"mark":{"type":"text","fontSize":27,"align":"right","baseline":"alphabetic","color":"#000"},
"encoding":{"text":{"field":"stat"},"x":{"datum":13.63,"type":"quantitative","scale":{"domain":[3.56,14],"nice":false,"zero":false},"axis":null},"y":{"datum":2.264,"type":"quantitative","scale":{"domain":[0,2.6],"nice":false,"zero":false},"axis":null}}},
{"data":{"name":"labels"},"transform":[{"filter":"datum.panel == 'c'"}],"mark":{"type":"text","font":"Liberation Sans","fontWeight":"bold","fontSize":34,"align":"center","baseline":"alphabetic","color":"#000"},
"encoding":{"text":{"field":"letter"},"x":{"datum":3.36,"type":"quantitative","scale":{"domain":[3.56,14],"nice":false,"zero":false},"axis":null},"y":{"datum":2.811,"type":"quantitative","scale":{"domain":[0,2.6],"nice":false,"zero":false},"axis":null}}},
{"data":{"name":"labels"},"transform":[{"filter":"datum.panel == 'c'"}],"mark":{"type":"text","fontWeight":"bold","fontSize":37,"align":"center","baseline":"alphabetic","color":"#000"},
"encoding":{"text":{"field":"group"},"x":{"datum":8.2,"type":"quantitative","scale":{"domain":[3.56,14],"nice":false,"zero":false},"axis":null},"y":{"datum":2.773,"type":"quantitative","scale":{"domain":[0,2.6],"nice":false,"zero":false},"axis":null}}}
]},
{"width":367,"height":271,"resolve":{"axis":{"x":"independent","y":"independent"}},"layer":[
{"data":{"name":"pts"},"transform":[{"filter":"datum.g == 1"}],"mark":{"type":"circle","size":40,"opacity":1,"color":"#000"},
"encoding":{"x":{"field":"x","type":"quantitative","scale":{"domain":[4,13],"nice":false,"zero":false},"axis":{"values":[4,5,6,7,8,9,10,11,12,13],"title":"HbA1c","orient":"bottom","labelOverlap":false}},
"y":{"field":"d","type":"quantitative","scale":{"domain":[0.2,1.8],"nice":false,"zero":false},"axis":{"values":[0.2,0.4,0.6,0.8,1,1.2,1.4,1.6,1.8],"title":"DHA/AA","orient":"left","labelOverlap":false}}}},
{"data":{"name":"fits"},"transform":[{"filter":"datum.panel == 'd'"}],"mark":{"type":"line","color":"#e0353e","strokeWidth":3},
"encoding":{"x":{"field":"x","type":"quantitative","scale":{"domain":[4,13],"nice":false,"zero":false},"axis":{"values":[4.5,5.5,6.5,7.5,8.5,9.5,10.5,11.5,12.5],"labels":false,"domain":false,"title":null,"tickSize":3,"orient":"bottom"}},
"y":{"field":"y","type":"quantitative","scale":{"domain":[0.2,1.8],"nice":false,"zero":false},"axis":{"values":[0.3,0.5,0.7,0.9,1.1,1.3,1.5,1.7],"labels":false,"domain":false,"title":null,"tickSize":3,"orient":"left"}}}},
{"data":{"name":"labels"},"transform":[{"filter":"datum.panel == 'd'"}],"mark":{"type":"text","fontSize":27,"align":"right","baseline":"alphabetic","color":"#000"},
"encoding":{"text":{"field":"stat"},"x":{"datum":12.78,"type":"quantitative","scale":{"domain":[4,13],"nice":false,"zero":false},"axis":null},"y":{"datum":1.564,"type":"quantitative","scale":{"domain":[0.2,1.8],"nice":false,"zero":false},"axis":null}}},
{"data":{"name":"labels"},"transform":[{"filter":"datum.panel == 'd'"}],"mark":{"type":"text","font":"Liberation Sans","fontWeight":"bold","fontSize":34,"align":"center","baseline":"alphabetic","color":"#000"},
"encoding":{"text":{"field":"letter"},"x":{"datum":3.14,"type":"quantitative","scale":{"domain":[4,13],"nice":false,"zero":false},"axis":null},"y":{"datum":1.889,"type":"quantitative","scale":{"domain":[0.2,1.8],"nice":false,"zero":false},"axis":null}}}
]},
{"width":362,"height":271,"resolve":{"axis":{"x":"independent","y":"independent"}},"layer":[
{"data":{"name":"pts"},"transform":[{"filter":"datum.g <= 2"}],"mark":{"type":"circle","size":40,"opacity":1,"color":"#000"},
"encoding":{"x":{"field":"x","type":"quantitative","scale":{"domain":[4,13],"nice":false,"zero":false},"axis":{"values":[4,5,6,7,8,9,10,11,12,13],"title":"HbA1c","orient":"bottom","labelOverlap":false}},
"y":{"field":"d","type":"quantitative","scale":{"domain":[0.25,2.75],"nice":false,"zero":false},"axis":{"values":[0.5,1,1.5,2,2.5],"title":null,"orient":"left","labelOverlap":false}}}},
{"data":{"name":"fits"},"transform":[{"filter":"datum.panel == 'e'"}],"mark":{"type":"line","color":"#2ee02e","strokeWidth":2.5},
"encoding":{"x":{"field":"x","type":"quantitative","scale":{"domain":[4,13],"nice":false,"zero":false},"axis":{"values":[4.5,5.5,6.5,7.5,8.5,9.5,10.5,11.5,12.5],"labels":false,"domain":false,"title":null,"tickSize":3,"orient":"bottom"}},
"y":{"field":"y","type":"quantitative","scale":{"domain":[0.25,2.75],"nice":false,"zero":false},"axis":{"values":[0.25,0.75,1.25,1.75,2.25,2.75],"labels":false,"domain":false,"title":null,"tickSize":3,"orient":"left"}}}},
{"data":{"name":"labels"},"transform":[{"filter":"datum.panel == 'e'"}],"mark":{"type":"text","fontSize":27,"align":"right","baseline":"alphabetic","color":"#000"},
"encoding":{"text":{"field":"stat"},"x":{"datum":12.73,"type":"quantitative","scale":{"domain":[4,13],"nice":false,"zero":false},"axis":null},"y":{"datum":2.39,"type":"quantitative","scale":{"domain":[0.25,2.75],"nice":false,"zero":false},"axis":null}}},
{"data":{"name":"labels"},"transform":[{"filter":"datum.panel == 'e'"}],"mark":{"type":"text","font":"Liberation Sans","fontWeight":"bold","fontSize":34,"align":"center","baseline":"alphabetic","color":"#000"},
"encoding":{"text":{"field":"letter"},"x":{"datum":3.65,"type":"quantitative","scale":{"domain":[4,13],"nice":false,"zero":false},"axis":null},"y":{"datum":2.888,"type":"quantitative","scale":{"domain":[0.25,2.75],"nice":false,"zero":false},"axis":null}}}
]},
{"width":362,"height":271,"resolve":{"axis":{"x":"independent","y":"independent"}},"layer":[
{"data":{"name":"pts"},"mark":{"type":"circle","size":40,"opacity":1,"color":"#000"},
"encoding":{"x":{"field":"x","type":"quantitative","scale":{"domain":[3.56,14],"nice":false,"zero":false},"axis":{"values":[4,5,6,7,8,9,10,11,12,13,14],"title":"HbA1c","orient":"bottom","labelOverlap":false}},
"y":{"field":"d","type":"quantitative","scale":{"domain":[0.1,2.8],"nice":false,"zero":false},"axis":{"values":[0.2,0.4,0.6,0.8,1,1.2,1.4,1.6,1.8,2,2.2,2.4,2.6,2.8],"title":null,"orient":"left","labelOverlap":false}}}},
{"data":{"name":"fits"},"transform":[{"filter":"datum.panel == 'f'"}],"mark":{"type":"line","color":"#1a9fdc","strokeWidth":3.5},
"encoding":{"x":{"field":"x","type":"quantitative","scale":{"domain":[3.56,14],"nice":false,"zero":false},"axis":{"values":[4.5,5.5,6.5,7.5,8.5,9.5,10.5,11.5,12.5,13.5],"labels":false,"domain":false,"title":null,"tickSize":3,"orient":"bottom"}},
"y":{"field":"y","type":"quantitative","scale":{"domain":[0.1,2.8],"nice":false,"zero":false},"axis":{"values":[0.3,0.5,0.7,0.9,1.1,1.3,1.5,1.7,1.9,2.1,2.3,2.5,2.7],"labels":false,"domain":false,"title":null,"tickSize":3,"orient":"left"}}}},
{"data":{"name":"labels"},"transform":[{"filter":"datum.panel == 'f'"}],"mark":{"type":"text","fontSize":27,"align":"right","baseline":"alphabetic","color":"#000"},
"encoding":{"text":{"field":"stat"},"x":{"datum":13.77,"type":"quantitative","scale":{"domain":[3.56,14],"nice":false,"zero":false},"axis":null},"y":{"datum":2.411,"type":"quantitative","scale":{"domain":[0.1,2.8],"nice":false,"zero":false},"axis":null}}},
{"data":{"name":"labels"},"transform":[{"filter":"datum.panel == 'f'"}],"mark":{"type":"text","font":"Liberation Sans","fontWeight":"bold","fontSize":34,"align":"center","baseline":"alphabetic","color":"#000"},
"encoding":{"text":{"field":"letter"},"x":{"datum":3.185,"type":"quantitative","scale":{"domain":[3.56,14],"nice":false,"zero":false},"axis":null},"y":{"datum":2.95,"type":"quantitative","scale":{"domain":[0.1,2.8],"nice":false,"zero":false},"axis":null}}}
]}
],"columns":3,"bounds":"flush","spacing":{"row":93,"column":40}},
{"width":1240,"height":98,"view":{"stroke":null},"data":{"name":"caption"},"layer":[
{"transform":[{"filter":"datum.line == 1"}],"mark":{"type":"text","fontSize":19.5,"align":"left","baseline":"middle","dx":-19,"color":"#231f20"},
"encoding":{"text":{"field":"text"},"x":{"datum":0,"type":"quantitative","scale":{"domain":[0,1]},"axis":null},"y":{"field":"line","type":"quantitative","scale":{"domain":[1,5],"reverse":true},"axis":null}}},
{"transform":[{"filter":"datum.line > 1"}],"mark":{"type":"text","fontSize":19.5,"align":"left","baseline":"middle","dx":-70,"color":"#231f20"},
"encoding":{"text":{"field":"text"},"x":{"datum":0,"type":"quantitative","scale":{"domain":[0,1]},"axis":null},"y":{"field":"line","type":"quantitative","scale":{"domain":[1,5],"reverse":true},"axis":null}}},
{"transform":[{"filter":"datum.line == 1"}],"mark":{"type":"text","fontSize":19.5,"fontWeight":"bold","align":"left","baseline":"middle","dx":-70,"color":"#231f20"},
"encoding":{"text":{"field":"lead"},"x":{"datum":0,"type":"quantitative","scale":{"domain":[0,1]},"axis":null},"y":{"field":"line","type":"quantitative","scale":{"domain":[1,5],"reverse":true},"axis":null}}}
]}
]
}
